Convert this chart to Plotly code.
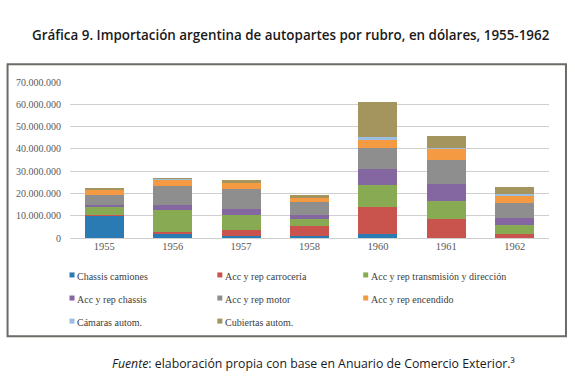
import plotly.graph_objects as go

years = ["1955", "1956", "1957", "1958", "1960", "1961", "1962"]
series_names = [
    "Chassis camiones",
    "Acc y rep carrocería",
    "Acc y rep transmisión y dirección",
    "Acc y rep chassis",
    "Acc y rep motor",
    "Acc y rep encendido",
    "Cámaras autom.",
    "Cubiertas autom.",
]
chassis_camiones = [10.0e6, 2.2e6, 1.0e6, 0.9e6, 1.8e6, 0.1e6, 0.1e6]
acc_carroceria = [0.1e6, 0.6e6, 2.4e6, 4.3e6, 12.3e6, 8.6e6, 1.7e6]
acc_transmision = [3.7e6, 9.8e6, 7.1e6, 3.5e6, 9.9e6, 7.8e6, 4.0e6]
acc_chassis = [1.0e6, 2.4e6, 2.4e6, 1.7e6, 6.9e6, 7.8e6, 3.0e6]
acc_motor = [4.7e6, 8.3e6, 9.3e6, 5.8e6, 9.6e6, 10.8e6, 6.9e6]
acc_encendido = [2.3e6, 3.1e6, 2.6e6, 1.8e6, 3.5e6, 5.1e6, 3.3e6]
camaras = [0.1e6, 0.1e6, 0.1e6, 0.1e6, 1.2e6, 0.2e6, 0.6e6]
cubiertas = [0.1e6, 0.4e6, 1.3e6, 1.2e6, 15.8e6, 5.4e6, 3.1e6]
y_ticks = [0, 10e6, 20e6, 30e6, 40e6, 50e6, 60e6, 70e6]

values = [chassis_camiones, acc_carroceria, acc_transmision, acc_chassis,
          acc_motor, acc_encendido, camaras, cubiertas]
colors = ["#2a7ab4", "#c9544e", "#87aa53", "#8466a0",
          "#8e8e8e", "#f39a43", "#9bbde0", "#a4955f"]

fig = go.Figure()
for name, vals, col in zip(series_names, values, colors):
    fig.add_trace(go.Bar(x=years, y=vals, name=name, marker_color=col,
                         marker_line_width=0, showlegend=False))

W, H = 575, 391
L, R, T, B = 69.5, 549, 82.3, 237.7
pw, ph = R - L, B - T

def px(x):
    return (x - L) / pw

def py(y):
    return (B - y) / ph

shapes = [dict(type="rect", xref="paper", yref="paper",
               x0=px(7), x1=px(566), y0=py(335.5), y1=py(64.5),
               line=dict(color="#6e6a66", width=2), layer="below")]
annotations = []

# legend (3 columns)
col_x = [69, 217, 363]
row_y = [276, 299, 322]
for i, (name, col) in enumerate(zip(series_names, colors)):
    r, c = divmod(i, 3)
    mx, my = col_x[c], row_y[r] - 1.5
    shapes.append(dict(type="rect", xref="paper", yref="paper",
                       x0=px(mx), x1=px(mx + 5), y0=py(my + 2.5), y1=py(my - 2.5),
                       fillcolor=col, line=dict(width=0)))
    annotations.append(dict(text=name, xref="paper", yref="paper",
                            x=px(mx + 6), y=py(row_y[r]), xanchor="left", yanchor="middle",
                            showarrow=False,
                            font=dict(family="Liberation Serif", size=10, color="#404040")))

annotations.append(dict(text="Gráfica 9. Importación argentina de autopartes por rubro, en dólares, 1955-1962",
                        xref="paper", yref="paper", x=px(291), y=py(35),
                        xanchor="center", yanchor="middle", showarrow=False,
                        font=dict(family="Open Sans", size=13.4, color="#1a1a1a", weight=600)))
annotations.append(dict(text="<i>Fuente</i>: elaboración propia con base en Anuario de Comercio Exterior.³",
                        xref="paper", yref="paper", x=px(313), y=py(363),
                        xanchor="center", yanchor="middle", showarrow=False,
                        font=dict(family="Open Sans", size=12.3, color="#1a1a1a")))

fig.update_layout(
    width=W, height=H,
    margin=dict(l=L, r=W - R, t=T, b=H - B, pad=0),
    paper_bgcolor="white", plot_bgcolor="white",
    barmode="stack", bargap=0.43,
    separators=",.",
    showlegend=False,
    shapes=shapes, annotations=annotations,
    xaxis=dict(type="category", showgrid=False, showline=False, ticks="",
               tickfont=dict(family="Liberation Serif", size=10.5, color="#595959")),
    yaxis=dict(range=[0, 70e6], tickvals=y_ticks, tickformat=",d",
               showgrid=True, gridcolor="#cfcfcf", gridwidth=1.3,
               zeroline=True, zerolinecolor="#cfcfcf", zerolinewidth=1.3,
               showline=False, ticks="", ticklabelstandoff=8,
               tickfont=dict(family="Liberation Serif", size=10, color="#595959")),
)

fig.write_html("out.html", config={"displayModeBar": False},
               post_script="document.body.style.margin='0px';")
